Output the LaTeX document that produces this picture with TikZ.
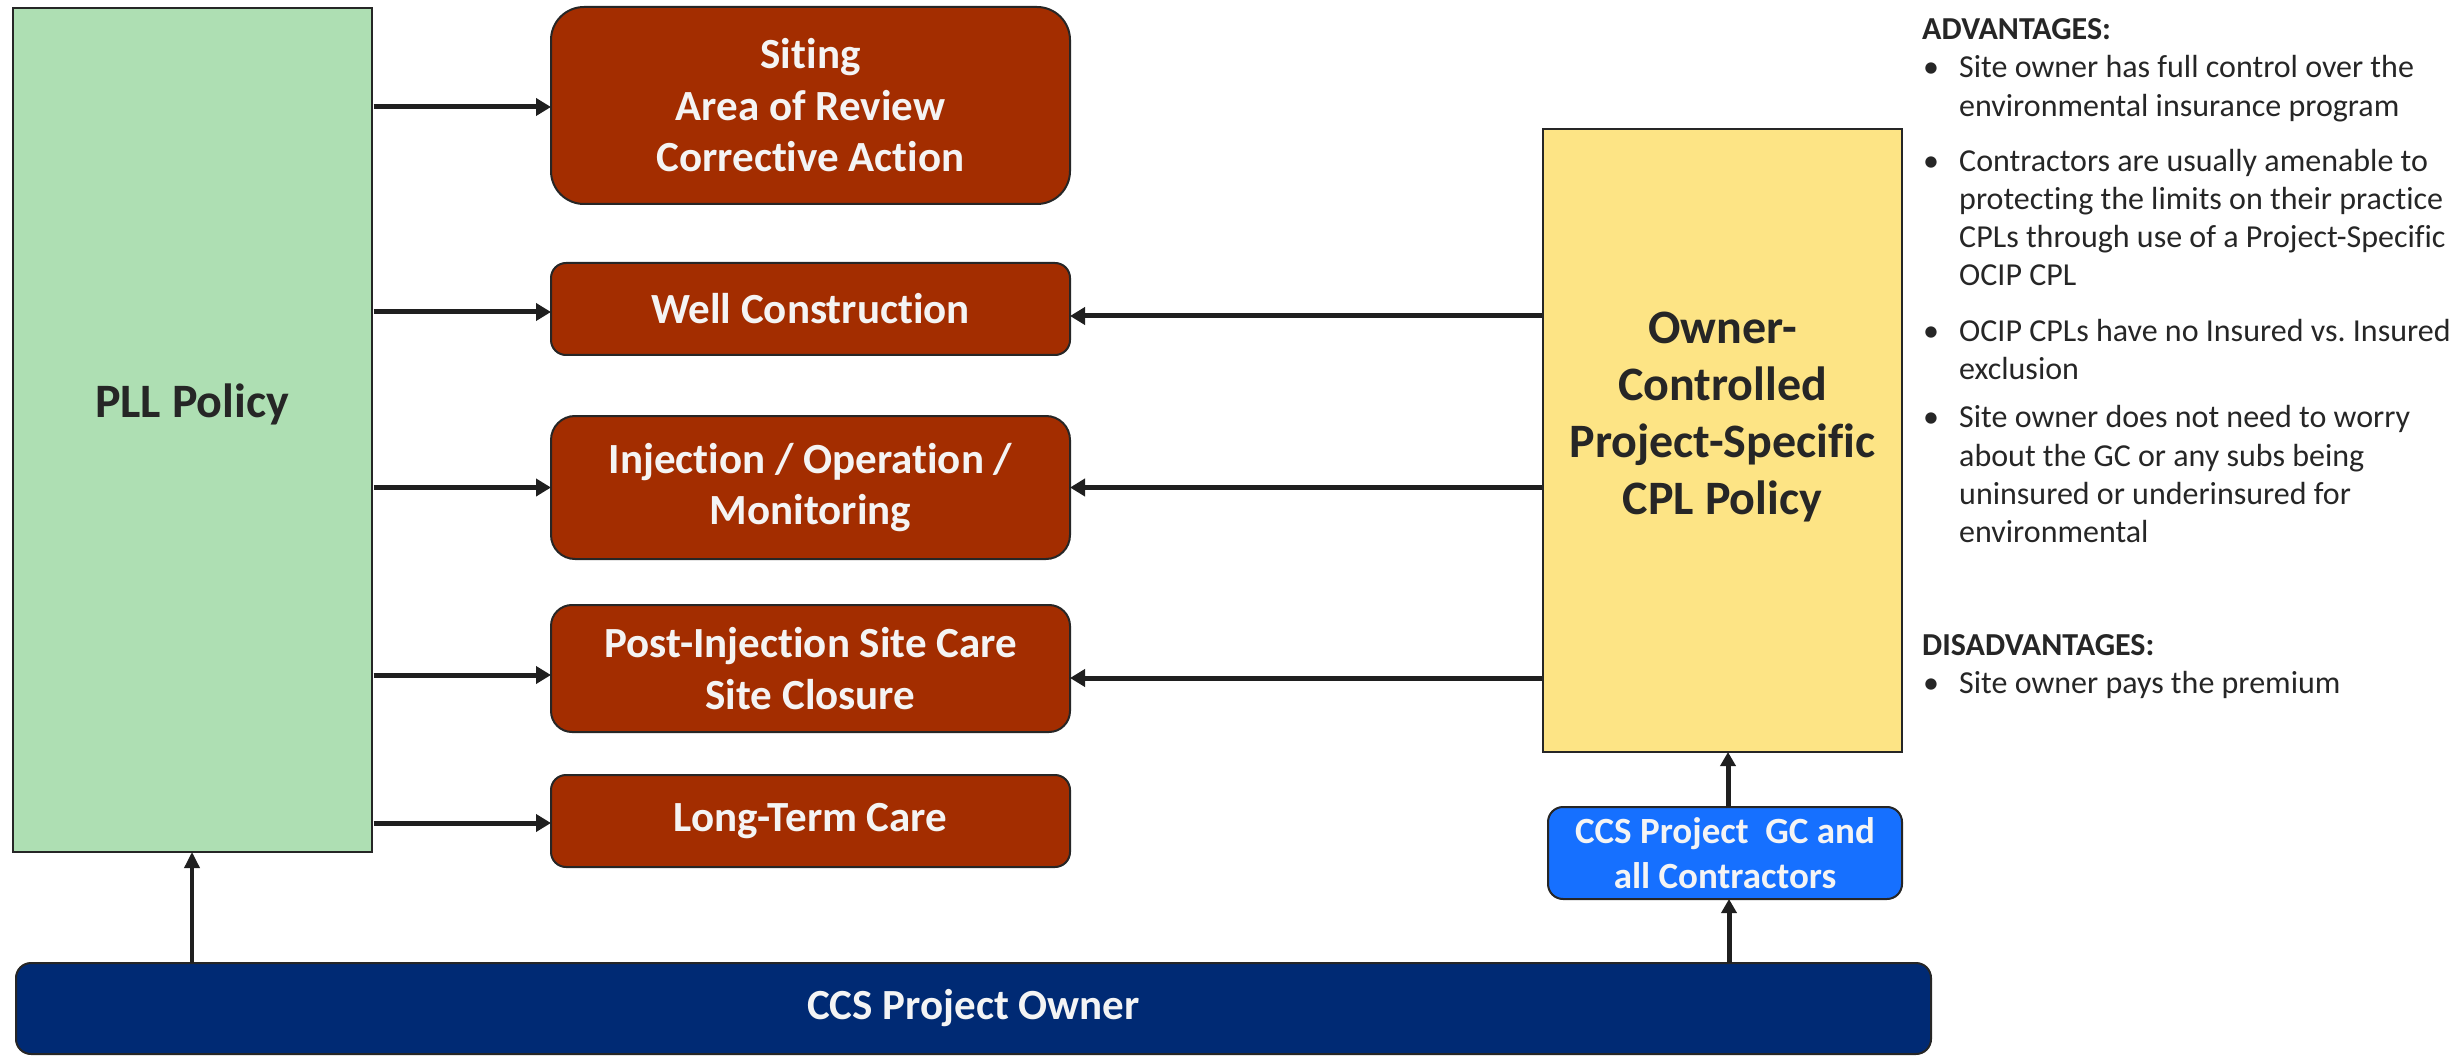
\documentclass[tikz,border=0pt]{standalone}
\usepackage{fontspec}
\setmainfont{Carlito}[Ligatures=NoCommon]
\frenchspacing
\usetikzlibrary{arrows.meta,calc}
\definecolor{pllgreen}{HTML}{AEDFB3}
\definecolor{stagebrown}{HTML}{A32D00}
\definecolor{ocipyellow}{HTML}{FDE485}
\definecolor{gcblue}{HTML}{1670FF}
\definecolor{ownernavy}{HTML}{002A74}
\definecolor{edgegray}{HTML}{262626}
\definecolor{arrowgray}{HTML}{1F1F1F}
\definecolor{bodytext}{HTML}{262626}
\definecolor{boxwhite}{HTML}{F4F4F4}
\begin{document}
\begin{tikzpicture}[x=1pt,y=-1pt,
  box/.style={draw=edgegray,line width=2pt,inner sep=0pt,outer sep=0pt},
  stagebox/.style={box,fill=stagebrown,text=boxwhite,rounded corners=#1,
    minimum width=519pt,font=\bfseries\fontsize{43}{51.5}\selectfont,align=center},
  arr/.style={draw=arrowgray,line width=5pt,-{Triangle[length=15pt,width=17pt]}},
  thinarr/.style={draw=arrowgray,line width=3.5pt,-{Triangle[length=16pt,width=15pt]}},
  bigtext/.style={font=\bfseries\fontsize{48}{57}\selectfont,align=center,text=edgegray},
  side/.style={anchor=base west,inner sep=0pt,text=bodytext,font=\fontsize{32}{38}\selectfont},
  sidehead/.style={side,font=\bfseries\fontsize{32}{38}\selectfont},
]
\useasboundingbox (0,0) rectangle (2455,1056);

% left policy column
\node[box,fill=pllgreen,minimum width=359pt,minimum height=844pt] (pll) at (192,430) {};
\node[bigtext] (plltext) at (192,404) {PLL Policy};

% project stages
\node[stagebox=33pt,minimum height=197pt] (siting) at (810.5,105.5) {Siting\\Area of Review\\Corrective Action};
\node[stagebox=15pt,minimum height=92pt] (wc) at (810.5,309) {Well Construction};
\node[stagebox=24pt,minimum height=143pt] (inj) at (810.5,487.5) {Injection / Operation /\\Monitoring};
\node[stagebox=21pt,minimum height=127pt] (post) at (810.5,668.5) {Post-Injection Site Care\\Site Closure};
\node[stagebox=15pt,minimum height=92pt] (ltc) at (810.5,821) {Long-Term Care};

% owner-controlled policy
\node[box,fill=ocipyellow,minimum width=359pt,minimum height=623pt] (ocip) at (1722.5,440.5) {};
\node[bigtext] (ociptext) at (1722.5,417) {Owner-\\Controlled\\Project-Specific\\CPL Policy};

% contractors and owner
\node[box,fill=gcblue,rounded corners=15pt,minimum width=354pt,minimum height=92pt,
  text=boxwhite,font=\bfseries\fontsize{37}{45}\selectfont,align=center] (gc) at (1725,853)
  {CCS Project~~GC and\\all Contractors};
\node[box,fill=ownernavy,rounded corners=15pt,minimum width=1915pt,minimum height=91pt,
  text=boxwhite,font=\bfseries\fontsize{43}{51}\selectfont] (owner) at (973.5,1008.5)
  {CCS Project Owner};

% connectors from the PLL policy
\draw[arr] ($(pll.east |- siting.west)+(2,1.5)$) -- ($(siting.west)+(0,1.5)$);
\draw[arr] ($(pll.east |- wc.west)+(2,3)$) -- ($(wc.west)+(0,3)$);
\draw[arr] ($(pll.east |- inj.west)+(2,0)$) -- (inj.west);
\draw[arr] ($(pll.east |- post.west)+(2,6.5)$) -- ($(post.west)+(0,6.5)$);
\draw[arr] ($(pll.east |- ltc.west)+(2,2)$) -- ($(ltc.west)+(0,2)$);

% connectors from the owner-controlled policy
\draw[arr] ($(ocip.west |- wc.east)+(-1,7)$) -- ($(wc.east)+(0,7)$);
\draw[arr] ($(ocip.west |- inj.east)+(-1,0)$) -- (inj.east);
\draw[arr] ($(ocip.west |- post.east)+(-1,9.5)$) -- ($(post.east)+(0,9.5)$);

% vertical connectors
\draw[thinarr] (owner.north -| pll.south) -- (pll.south);
\draw[arr,-{Triangle[length=14pt,width=15pt]}] ($(owner.north -| gc.south)+(4,0)$) -- ($(gc.south)+(4,0)$);
\draw[arr,-{Triangle[length=14pt,width=15pt]}] ($(gc.north)+(3,0)$) -- ($(gc.north |- ocip.south)+(3,0)$);

% advantages and disadvantages
\node[sidehead] (advhead) at (1922,40) {ADVANTAGES:};
\node[side] (b1) at (1923,78) {\textbullet};
\node[side] (a1l1) at (1959,78) {Site owner has full control over the};
\node[side] (a1l2) at (1959,116.5) {environmental insurance program};
\node[side] (b2) at (1923,172) {\textbullet};
\node[side] (a2l1) at (1959,172) {Contractors are usually amenable to};
\node[side] (a2l2) at (1959,210) {protecting the limits on their practice};
\node[side] (a2l3) at (1959,248) {CPLs through use of a Project-Specific};
\node[side] (a2l4) at (1959,286) {OCIP CPL};
\node[side] (b3) at (1923,342) {\textbullet};
\node[side] (a3l1) at (1959,342) {OCIP CPLs have no Insured vs. Insured};
\node[side] (a3l2) at (1959,380) {exclusion};
\node[side] (b4) at (1923,428) {\textbullet};
\node[side] (a4l1) at (1959,428) {Site owner does not need to worry};
\node[side] (a4l2) at (1959,466) {about the GC or any subs being};
\node[side] (a4l3) at (1959,504) {uninsured or underinsured for};
\node[side] (a4l4) at (1959,542) {environmental};
\node[sidehead] (dishead) at (1922,655) {DISADVANTAGES:};
\node[side] (b5) at (1923,693) {\textbullet};
\node[side] (d1l1) at (1959,693) {Site owner pays the premium};
\end{tikzpicture}
\end{document}
